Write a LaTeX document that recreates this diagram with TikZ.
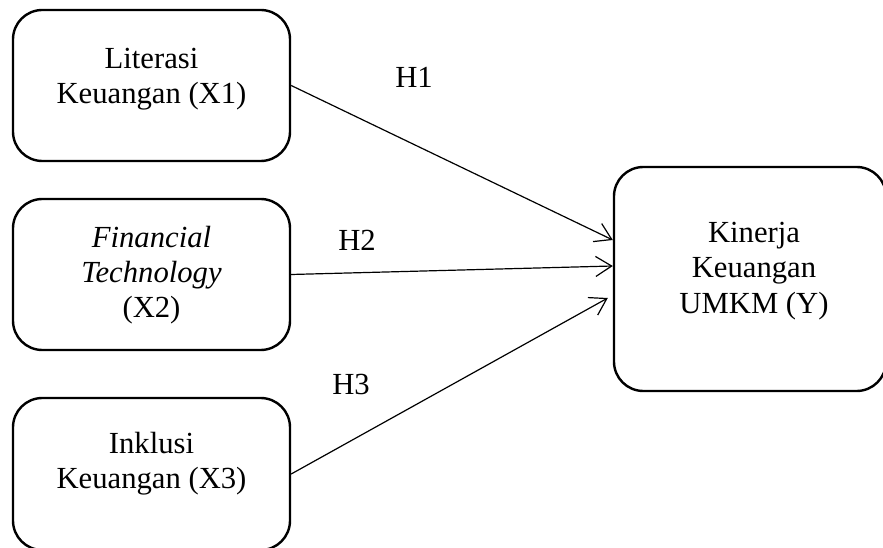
\documentclass[tikz,border=0pt]{standalone}
\usepackage{fontspec}
\setmainfont{Liberation Serif}
\usetikzlibrary{arrows.meta}
\begin{document}
\begin{tikzpicture}[x=0.75pt,y=-0.75pt,
  box/.style={draw=black, line width=1.8pt, rounded corners=22pt, inner sep=0pt},
  lbl/.style={align=center, inner sep=0pt, font=\fontsize{23}{26.5}\selectfont},
  hyp/.style={inner sep=0pt, font=\fontsize{23}{26.5}\selectfont},
  arr/.style={line width=0.9pt, -{Straight Barb[length=12pt, width=15pt, line width=0.9pt]}}]
\useasboundingbox (0,0) rectangle (883,548);
\clip (0,0) rectangle (883,548);
% boxes
\node[box, minimum width=207.75pt, minimum height=113.25pt] (x1) at (151.5,85.5) {};
\node[box, minimum width=207.75pt, minimum height=113.25pt] (x2) at (151.5,274.5) {};
\node[box, minimum width=207.75pt, minimum height=114pt] (x3) at (151.5,474) {};
\node[box, minimum width=204pt, minimum height=168pt] (yb) at (750,279) {};
% texts
\node[lbl] (x1t) at (151.5,79) {Literasi\\Keuangan (X1)};
\node[lbl] (x2t) at (151.5,275) {\textit{Financial}\\\textit{Technology}\\(X2)};
\node[lbl] (x3t) at (151.5,464) {Inklusi\\Keuangan (X3)};
\node[lbl] (yt) at (754,271) {Kinerja\\Keuangan\\UMKM (Y)};
% hypotheses
\node[hyp] (h1) at (414,77) {H1};
\node[hyp] (h2) at (357,240) {H2};
\node[hyp] (h3) at (351,385) {H3};
% arrows
\draw[arr] (x1.east) -- ([yshift=29.25pt]yb.west);
\draw[arr] (x2.east) -- ([yshift=9.75pt]yb.west);
\draw[arr] (x3.east) -- ([yshift=-14.25pt,xshift=-3.75pt]yb.west);
\end{tikzpicture}
\end{document}
